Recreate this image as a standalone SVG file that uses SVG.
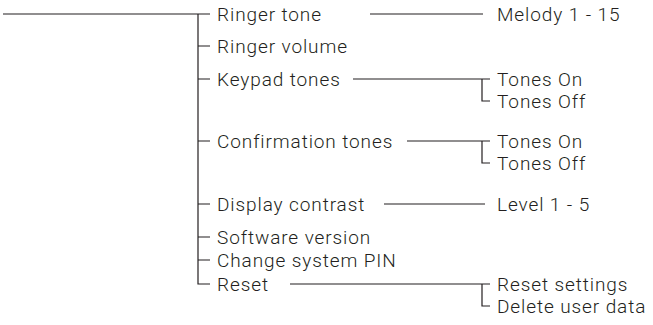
<svg xmlns="http://www.w3.org/2000/svg" width="653" height="325" viewBox="0 0 653 325">
<style>
.t{font-family:Roboto,"Liberation Sans",sans-serif;font-size:19px;font-weight:300;letter-spacing:0.9px;fill:#231f20}
.l{stroke:#231f20;stroke-width:1.2;fill:none}
</style>
<rect width="653" height="325" fill="#fff"/>
<g id="connectors" class="l">
<path d="M3 14H210"/>
<path d="M198 14V284H210"/>
<path d="M198 46H210M198 79H210M198 141H210M198 204H210M198 237H210M198 260H210"/>
<path d="M370 14H483"/>
<path d="M353 79H490M482 79V101H490"/>
<path d="M407 141H490M482 141V163H490"/>
<path d="M384 204H485"/>
<path d="M290 284H490M482 284V306H490"/>
</g>
<g id="n-ringer-tone"><text class="t" x="217" y="20.5">Ringer tone</text></g>
<g id="n-ringer-volume"><text class="t" x="217" y="52.5">Ringer volume</text></g>
<g id="n-keypad"><text class="t" x="217" y="85.5">Keypad tones</text></g>
<g id="n-confirm"><text class="t" x="217" y="147.5">Confirmation tones</text></g>
<g id="n-display"><text class="t" x="217" y="210.5">Display contrast</text></g>
<g id="n-software"><text class="t" x="217" y="243.5">Software version</text></g>
<g id="n-pin"><text class="t" x="217" y="266.5">Change system PIN</text></g>
<g id="n-reset"><text class="t" x="217" y="290.5">Reset</text></g>
<g id="n-melody"><text class="t" x="497" y="20.5">Melody 1 - 15</text></g>
<g id="n-kon"><text class="t" x="497" y="85.5">Tones On</text></g>
<g id="n-koff"><text class="t" x="497" y="107.5">Tones Off</text></g>
<g id="n-con"><text class="t" x="497" y="147.5">Tones On</text></g>
<g id="n-coff"><text class="t" x="497" y="169.5">Tones Off</text></g>
<g id="n-level"><text class="t" x="497" y="210.5">Level 1 - 5</text></g>
<g id="n-rs"><text class="t" x="497" y="290.5">Reset settings</text></g>
<g id="n-del"><text class="t" x="497" y="312.5">Delete user data</text></g>
</svg>
